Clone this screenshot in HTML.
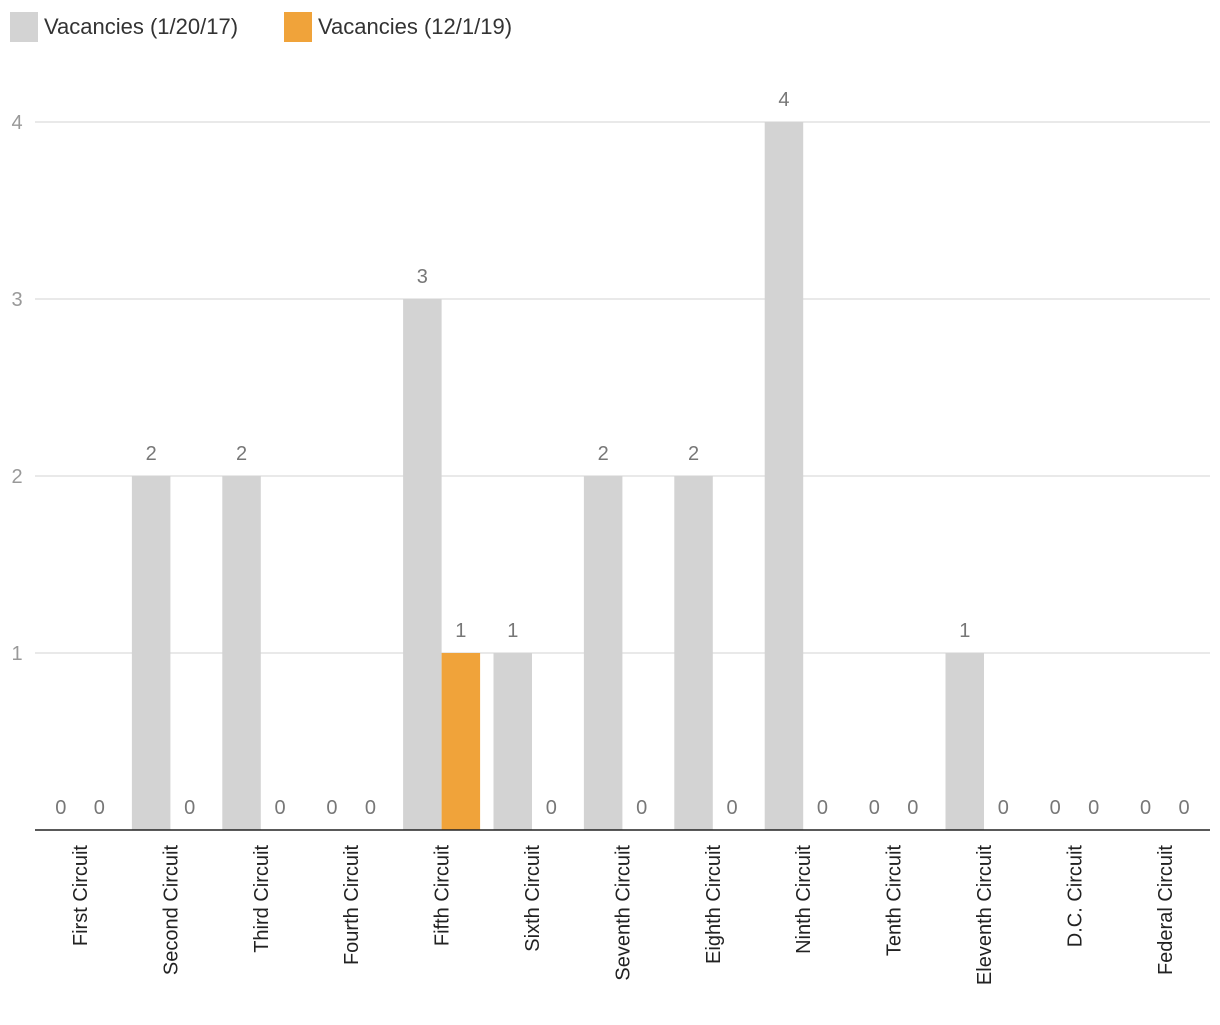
<!DOCTYPE html>
<html><head><meta charset="utf-8"><style>
body{margin:0;background:#fff;font-family:"Liberation Sans",sans-serif;}
</style></head><body>
<svg width="1220" height="1020" xmlns="http://www.w3.org/2000/svg">
<g>
<rect x="10" y="12" width="28" height="30" fill="#d3d3d3"/>
<text x="44" y="34" font-size="22" fill="#333">Vacancies (1/20/17)</text>
<rect x="284" y="12" width="28" height="30" fill="#f0a33a"/>
<text x="318" y="34" font-size="22" fill="#333">Vacancies (12/1/19)</text>
</g>
<g id="grid"></g><g id="bars"></g><g id="labels"></g>
<line x1="35" y1="830" x2="1210" y2="830" stroke="#222" stroke-width="1.5"/>
</svg>
<script>
const categories=["First Circuit","Second Circuit","Third Circuit","Fourth Circuit","Fifth Circuit","Sixth Circuit","Seventh Circuit","Eighth Circuit","Ninth Circuit","Tenth Circuit","Eleventh Circuit","D.C. Circuit","Federal Circuit"];
const vac2017=[0,2,2,0,3,1,2,2,4,0,1,0,0];
const vac2019=[0,0,0,0,1,0,0,0,0,0,0,0,0];
const yTicks=[1,2,3,4];
const NS="http://www.w3.org/2000/svg";
const y=v=>830-v*177;
const cx=i=>80+i*90.4;
const bw=38.5;
function mk(tag,attrs,parent,txt){const e=document.createElementNS(NS,tag);for(const k in attrs)e.setAttribute(k,attrs[k]);if(txt!==undefined)e.textContent=txt;parent.appendChild(e);return e;}
const grid=document.getElementById('grid'),bars=document.getElementById('bars'),labels=document.getElementById('labels');
yTicks.forEach(t=>{
  const l=mk('line',{x1:35,x2:1210,y1:y(t),y2:y(t),stroke:'#e2e2e2','stroke-width':1.5},grid);
  
  
  const tx=mk('text',{x:17,y:y(t)+7,'font-size':20,fill:'#999','text-anchor':'middle'},grid,t);
  
  
});
categories.forEach((c,i)=>{
  [[vac2017[i],cx(i)-bw,'#d3d3d3','2017'],[vac2019[i],cx(i),'#f0a33a','2019']].forEach(([v,x,col,s])=>{
    if(v>0){
      const r=mk('rect',{x:x,y:y(v),width:bw,height:830-y(v),fill:col},bars);
      
      
    }
    const t=mk('text',{x:x+bw/2,y:y(v)-16,'font-size':20,fill:'#777','text-anchor':'middle'},labels,v);
    
    
  });
  const cl=mk('text',{transform:`translate(${cx(i)+7},845) rotate(-90)`,'font-size':20,fill:'#222','text-anchor':'end'},labels,c);
  
  
});
</script>
</body></html>
